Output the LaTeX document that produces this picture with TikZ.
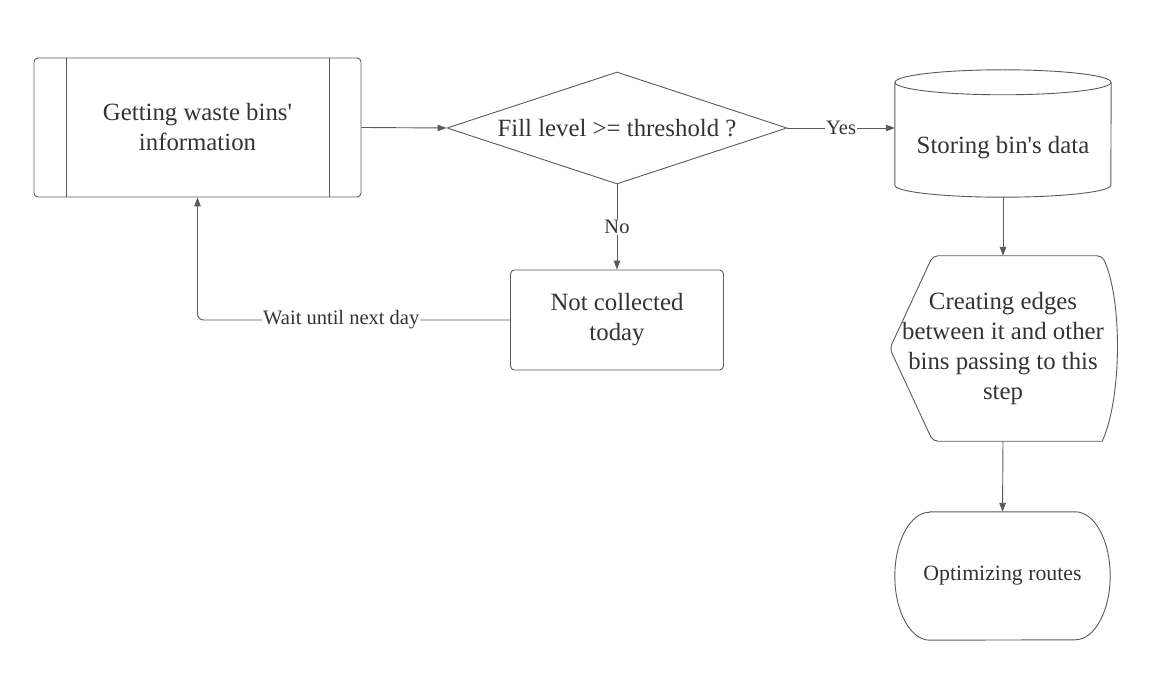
\documentclass[tikz,border=0pt]{standalone}
\usepackage{fontspec}
\setmainfont{Liberation Serif}
\usetikzlibrary{shapes.geometric,arrows.meta}
\definecolor{ln}{HTML}{5A5A5A}
\definecolor{tx}{HTML}{333333}
\begin{document}
\begin{tikzpicture}[x=1pt,y=1pt,
  base/.style={text=tx, font=\fontsize{24.8}{30}\selectfont, align=center, inner sep=0pt},
  proc/.style={base, draw=ln, line width=0.9pt, rounded corners=4pt},
  shp/.style={draw=ln, line width=0.9pt},
  conn/.style={draw=ln, line width=0.9pt, -{Triangle[length=9pt,width=6.5pt]}},
  lbl/.style={text=tx, fill=white, inner sep=1pt, font=\fontsize{20.5}{24}\selectfont}]
\useasboundingbox (0,0) rectangle (1168,-676);

% predefined process
\node[proc, minimum width=327pt, minimum height=139pt] (gw) at (197.5,-127.5)
  {Getting waste bins\textquotesingle\\information};
\draw[shp] ([xshift=32.5pt]gw.north west) -- ([xshift=32.5pt]gw.south west);
\draw[shp] ([xshift=-32.5pt]gw.north east) -- ([xshift=-32.5pt]gw.south east);

% decision
\node[base, shp, diamond, aspect=3, minimum width=340pt, minimum height=112pt] (dec) at (617,-128)
  {Fill level >= threshold ?};

% cylinder (storage)
\node[text=tx, font=\fontsize{24.8}{30}\selectfont, inner sep=0pt, text height=40pt, text depth=0pt,
  minimum width=216pt, minimum height=127pt] (store) at (1003,-133.5)
  {Storing bin\textquotesingle s data};
\draw[shp] ([yshift=-12.5pt]store.north) ellipse [x radius=108pt, y radius=12.5pt];
\draw[shp] ([yshift=-12.5pt]store.north west) -- ([yshift=12pt]store.south west)
  arc[start angle=180, end angle=360, x radius=108pt, y radius=12pt]
  -- ([yshift=-12.5pt]store.north east);

% not collected
\node[proc, minimum width=213pt, minimum height=100pt] (nc) at (617,-320)
  {Not collected\\today};

% display shape
\node[base, minimum width=226pt, minimum height=185pt] (disp) at (1003,-348.5)
  {Creating edges\\between it and other\\bins passing to this\\step};
\draw[shp, rounded corners=5pt] ([xshift=43pt]disp.north west) -- ([xshift=-14pt]disp.north east)
  [sharp corners] .. controls ([xshift=6pt,yshift=-44pt]disp.north east) and ([xshift=6pt,yshift=44pt]disp.south east) .. ([xshift=-14pt]disp.south east)
  [rounded corners=5pt] -- ([xshift=43pt]disp.south west) -- (disp.west) -- cycle;

% terminal
\node[base, font=\fontsize{21.8}{26}\selectfont, minimum width=215pt, minimum height=128pt] (term) at (1002.5,-576)
  {Optimizing routes};
\draw[shp] ([xshift=35pt]term.north west) -- ([xshift=-35pt]term.north east)
  arc[start angle=90, end angle=-90, x radius=35pt, y radius=64pt]
  -- ([xshift=35pt]term.south west)
  arc[start angle=270, end angle=90, x radius=35pt, y radius=64pt] -- cycle;

% connectors
\draw[conn] (gw.east) -- (dec.west);
\draw[conn] (dec.east) -- node[lbl] {Yes} (dec.east -| store.west);
\draw[conn] (dec.south) -- node[lbl] {No} (nc.north);
\draw[conn, rounded corners=6pt] (nc.west) -| node[lbl, pos=0.27] {Wait until next day} (gw.south);
\draw[conn] (store.south) -- (disp.north);
\draw[conn] (disp.south) -- (term.north);
\end{tikzpicture}
\end{document}
